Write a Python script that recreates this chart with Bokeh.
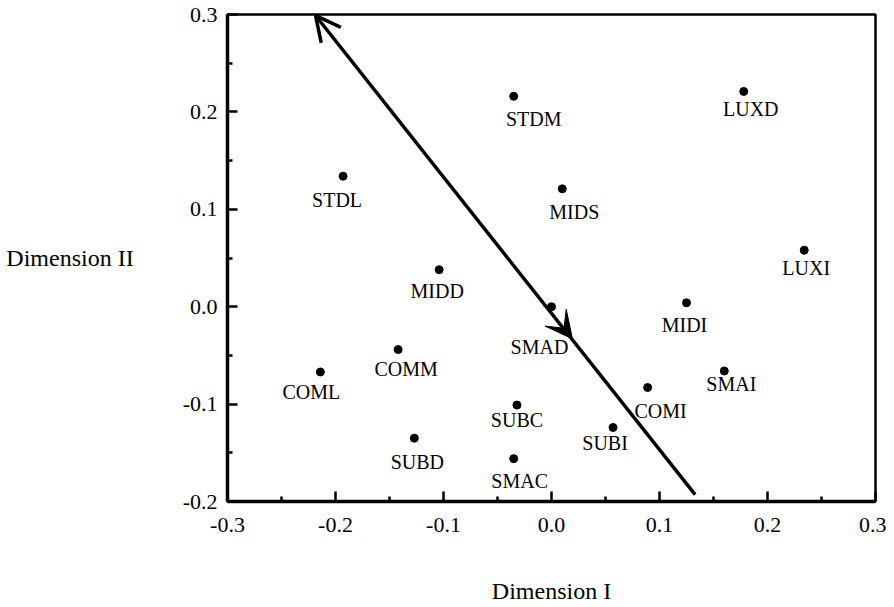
from bokeh.plotting import figure
from bokeh.models import ColumnDataSource, Range1d, FixedTicker, Arrow, OpenHead, VeeHead, PrintfTickFormatter
from bokeh.core.properties import value
from bokeh.embed import file_html
from bokeh.resources import INLINE

# ---- data ----
labels = ["STDM", "MIDS", "SMAD", "MIDI", "COMI", "SUBC", "SUBI", "MIDD",
          "COMM", "COML", "SUBD", "SMAC", "STDL", "LUXD", "LUXI", "SMAI"]
dim1 = [-0.035, 0.010, 0.000, 0.125, 0.089, -0.032, 0.057, -0.104,
        -0.142, -0.214, -0.127, -0.035, -0.193, 0.178, 0.234, 0.160]
dim2 = [0.216, 0.121, 0.000, 0.004, -0.083, -0.101, -0.124, 0.038,
        -0.044, -0.067, -0.135, -0.156, 0.134, 0.221, 0.058, -0.066]

x_ticks = [-0.3, -0.2, -0.1, 0.0, 0.1, 0.2, 0.3]
x_minor = [-0.25, -0.15, -0.05, 0.05, 0.15, 0.25]
y_ticks = [-0.2, -0.1, 0.0, 0.1, 0.2, 0.3]
y_minor = [-0.15, -0.05, 0.05, 0.15, 0.25]

x_title = "Dimension I"
y_title = "Dimension II"

# direction arrow (start at bottom, end at top) and its mid arrowhead
arrow_x = [0.133, -0.2185]
arrow_y = [-0.193, 0.299]
mid_head = [0.0194, -0.033]

# ---- label placement (pixels) ----
label_dx = [20, 12, -12, -2, 13, 0, -8, -2, 8, -9, 3, 6, -6, 7, 2, 7]
label_dy = [23, 23, 40, 22, 23, 15, 16, 21, 19, 20, 24, 22, 24, 18, 18, 13]

FONT = "Liberation Serif"

src = ColumnDataSource(dict(x=dim1, y=dim2, label=labels, dx=label_dx, dy=label_dy))

p = figure(width=886, height=607,
           x_range=Range1d(-0.3, 0.3), y_range=Range1d(-0.2, 0.3),
           output_backend="svg", toolbar_location=None,
           min_border_left=227, min_border_right=11,
           min_border_top=14, min_border_bottom=106)

p.grid.visible = False
p.outline_line_color = "black"
p.outline_line_width = 2.5
p.outline_line_alpha = 1
p.background_fill_color = "white"
p.border_fill_color = "white"

for ax, ticks, minor in ((p.xaxis[0], x_ticks, x_minor), (p.yaxis[0], y_ticks, y_minor)):
    ax.ticker = FixedTicker(ticks=ticks, minor_ticks=minor)
    ax.formatter = PrintfTickFormatter(format="%.1f")
    ax.axis_line_width = 3.5
    ax.axis_line_color = "black"
    ax.major_tick_in = 10
    ax.major_tick_out = 0
    ax.minor_tick_in = 5
    ax.minor_tick_out = 0
    ax.major_tick_line_width = 2.5
    ax.minor_tick_line_width = 2.5
    ax.major_tick_line_color = "black"
    ax.minor_tick_line_color = "black"
    ax.major_label_text_font = FONT
    ax.major_label_text_font_size = "22px"
    ax.major_label_text_color = "black"
    ax.axis_label_text_font = FONT
    ax.axis_label_text_font_size = "24px"
    ax.axis_label_text_font_style = "normal"
    ax.axis_label_text_color = "black"

p.xaxis.axis_label = x_title
p.xaxis.major_label_standoff = 16
p.xaxis.axis_label_standoff = 43

p.yaxis.axis_label = y_title
p.yaxis.axis_label_orientation = "horizontal"
p.yaxis.major_label_standoff = 10
p.yaxis.axis_label_standoff = 46

# main arrow line with open head at top
p.add_layout(Arrow(x_start=arrow_x[0], y_start=arrow_y[0], x_end=arrow_x[1], y_end=arrow_y[1],
                   line_width=3.5, line_color="black",
                   end=OpenHead(size=25, line_width=3.5, line_color="black")))
# filled mid arrowhead pointing down-right
p.add_layout(Arrow(x_start=arrow_x[1], y_start=arrow_y[1], x_end=mid_head[0], y_end=mid_head[1],
                   line_alpha=0, line_width=0,
                   end=VeeHead(size=27, fill_color="black", line_color="black", line_width=1)))

p.scatter("x", "y", source=src, size=8, color="black", marker="circle")
p.text("x", "y", text="label", x_offset="dx", y_offset="dy", source=src,
       text_font=value(FONT), text_font_size="20px", text_align="center",
       text_baseline="middle", text_color="black")

open("out.html", "w").write(file_html(p, INLINE))
